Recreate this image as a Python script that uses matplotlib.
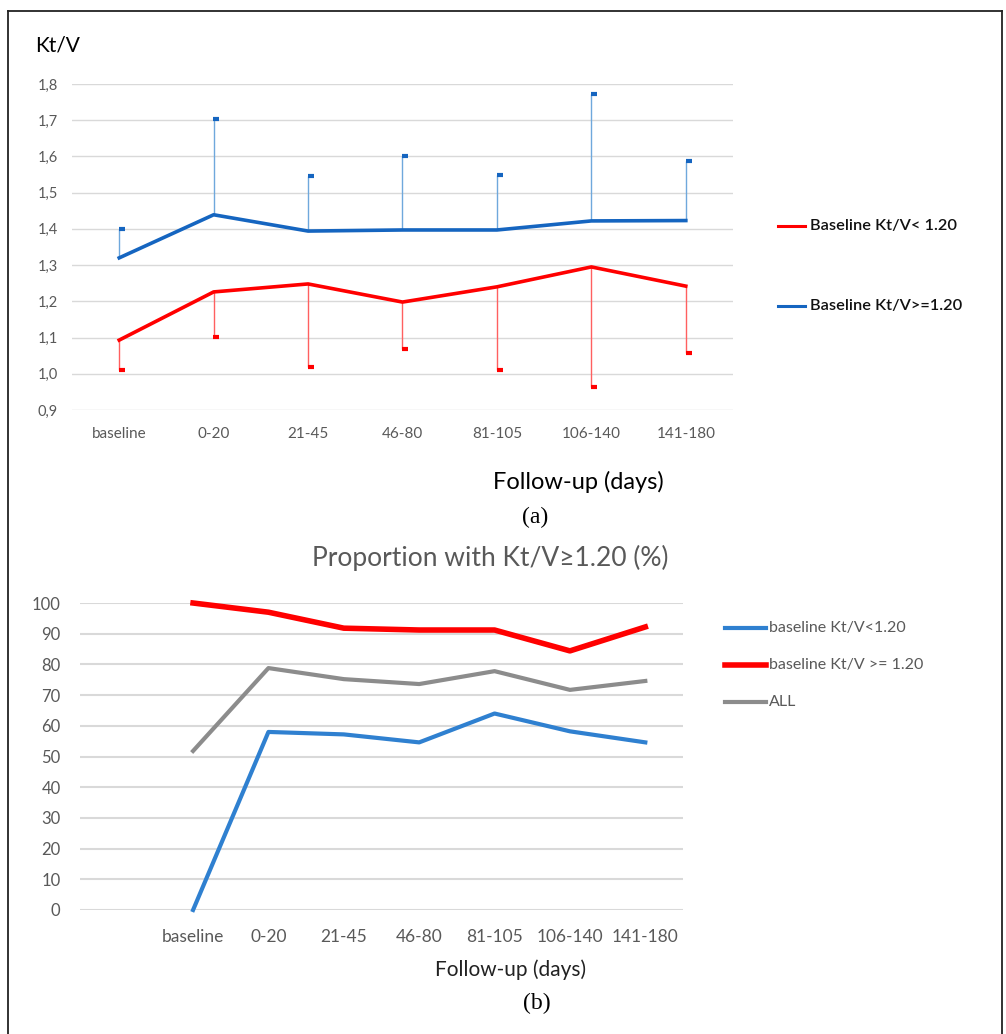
import numpy as np
import matplotlib.pyplot as plt
from matplotlib.lines import Line2D

# Kt/V follow-up, two baseline groups
periods = ['baseline', '0-20', '21-45', '46-80', '81-105', '106-140', '141-180']
ktv_low = [1.093, 1.226, 1.248, 1.198, 1.240, 1.295, 1.242]
ktv_low_min = [1.010, 1.102, 1.019, 1.068, 1.010, 0.963, 1.057]
ktv_high = [1.320, 1.439, 1.394, 1.397, 1.397, 1.422, 1.423]
ktv_high_max = [1.400, 1.704, 1.546, 1.600, 1.550, 1.773, 1.588]
ktv_ticks = [0.9, 1.0, 1.1, 1.2, 1.3, 1.4, 1.5, 1.6, 1.7, 1.8]

# proportion reaching Kt/V >= 1.20 (%)
prop_low = [0, 58.0, 57.2, 54.6, 64.0, 58.2, 54.6]
prop_high = [100, 97.0, 91.8, 91.2, 91.2, 84.4, 92.2]
prop_all = [51.8, 78.8, 75.2, 73.6, 77.8, 71.7, 74.6]
prop_ticks = list(range(0, 101, 10))

RED = '#FF0000'
BLUE_A = '#1565C0'
BLUE_B = '#2F80D0'
GREY = '#8C8C8C'
TXT = '#595959'
GRID = '#D9D9D9'
FONT = 'Lato'

W, H = 1006, 1034
fig = plt.figure(figsize=(W / 100, H / 100), dpi=100)

def box(x0, y0, x1, y1):
    return [x0 / W, 1 - y1 / H, (x1 - x0) / W, (y1 - y0) / H]

# frame around the figure
for xs, ys in [([8, 8], [11, H]), ([8, 1002], [11, 11]), ([1002, 1002], [11, H])]:
    fig.add_artist(Line2D([x / W for x in xs], [1 - y / H for y in ys],
                          color='#222222', lw=1.3))

#-----------------------------------------------------------------------------
# (a) mean Kt/V with one-sided spread
ax = fig.add_axes(box(72, 84, 733, 410))
x = np.arange(len(periods))
ax.vlines(x, ktv_low_min, ktv_low, color='#FF6060', lw=1)
ax.vlines(x, ktv_high, ktv_high_max, color='#6FA8DC', lw=1)
ax.plot(x + 0.03, ktv_low_min, ls='none', marker='_', ms=5, mew=3, color=RED)
ax.plot(x + 0.03, ktv_high_max, ls='none', marker='_', ms=5, mew=3, color=BLUE_A)
ax.plot(x, ktv_low, color=RED, lw=2.6, zorder=3)
ax.plot(x, ktv_high, color=BLUE_A, lw=2.6, zorder=3)
ax.set_xlim(-0.5, len(periods) - 0.5)
ax.set_ylim(0.9, 1.8)
ax.set_yticks(ktv_ticks)
ax.set_yticklabels([f'{v:.1f}'.replace('.', ',') for v in ktv_ticks])
ax.set_xticks(x)
ax.set_xticklabels(periods)
ax.tick_params(axis='y', length=0, pad=10, labelsize=10.5, labelcolor=TXT)
ax.tick_params(axis='x', length=0, pad=12, labelsize=11, labelcolor=TXT)
for lab in ax.get_xticklabels() + ax.get_yticklabels():
    lab.set_family(FONT)
ax.grid(axis='y', color=GRID, lw=1)
ax.set_axisbelow(True)
for s in ax.spines.values():
    s.set_visible(False)

fig.text(35 / W, 1 - 45 / H, 'Kt/V', fontsize=15, family=FONT, va='center', ha='left')
fig.text(578 / W, 1 - 482 / H, 'Follow-up (days)', fontsize=17, family=FONT,
         va='center', ha='center')
fig.text(535 / W, 1 - 517 / H, '(a)', fontsize=17, family='Liberation Serif',
         va='center', ha='center')

for i, (lab, col) in enumerate([('Baseline Kt/V< 1.20', RED),
                                 ('Baseline Kt/V>=1.20', BLUE_A)]):
    yy = 1 - (226 + 80 * i) / H
    fig.add_artist(Line2D([778 / W, 805 / W], [yy, yy], color=col, lw=2.2))
    fig.text(810 / W, yy, lab, fontsize=11.8, family=FONT, weight='semibold',
             va='center', ha='left', color='#111111')

#-----------------------------------------------------------------------------
# (b) proportion above target
bx = fig.add_axes(box(80, 603, 683, 910))
xb = np.arange(1, len(periods) + 1)
bx.plot(xb, prop_low, color=BLUE_B, lw=3, clip_on=False, zorder=3)
bx.plot(xb, prop_high, color=RED, lw=4, clip_on=False, zorder=3)
bx.plot(xb, prop_all, color=GREY, lw=3, clip_on=False, zorder=3)
bx.set_xlim(-0.5, len(periods) + 0.5)
bx.set_ylim(0, 100)
bx.set_yticks(prop_ticks)
bx.set_xticks(xb)
bx.set_xticklabels(periods)
bx.tick_params(axis='y', length=0, pad=14, labelsize=12, labelcolor=TXT)
bx.tick_params(axis='x', length=0, pad=14, labelsize=12.5, labelcolor=TXT)
for lab in bx.get_xticklabels() + bx.get_yticklabels():
    lab.set_family(FONT)
bx.grid(axis='y', color=GRID, lw=1.5)
bx.set_axisbelow(True)
for s in bx.spines.values():
    s.set_visible(False)

fig.text(490 / W, 1 - 558 / H, 'Proportion with Kt/V≥1.20 (%)', fontsize=19,
         family=FONT, color=TXT, va='center', ha='center')
fig.text(511 / W, 1 - 970 / H, 'Follow-up (days)', fontsize=15, family=FONT,
         va='center', ha='center', color='#222222')
fig.text(537 / W, 1 - 1003 / H, '(b)', fontsize=17, family='Liberation Serif',
         va='center', ha='center')

for i, (lab, col, lw) in enumerate([('baseline Kt/V<1.20', BLUE_B, 3),
                                    ('baseline Kt/V >= 1.20', RED, 4),
                                    ('ALL', GREY, 3)]):
    yy = 1 - (628 + 37 * i) / H
    fig.add_artist(Line2D([725 / W, 766 / W], [yy, yy], color=col, lw=lw))
    fig.text(769 / W, yy, lab, fontsize=11.5, family=FONT, va='center',
             ha='left', color=TXT)

plt.savefig('out.png', dpi=100)
plt.close()
